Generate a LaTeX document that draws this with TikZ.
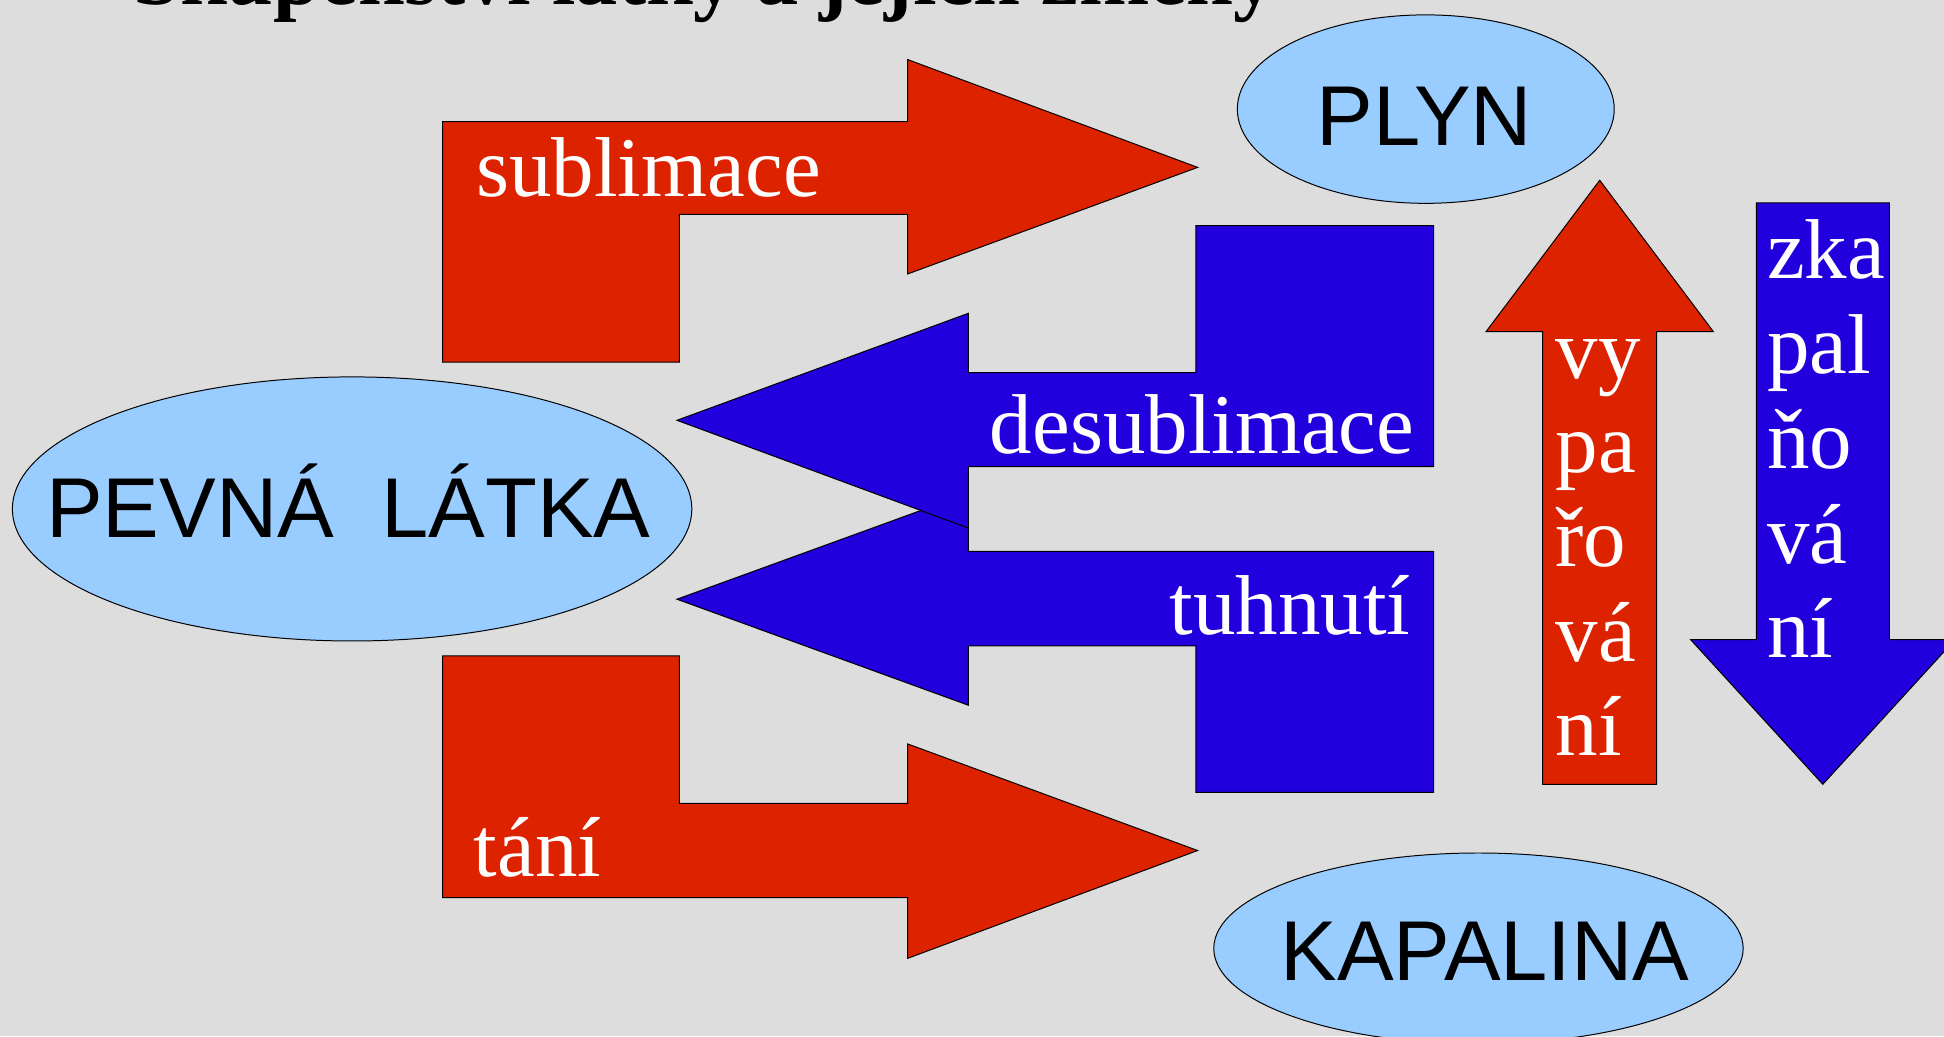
\documentclass[tikz,border=0pt]{standalone}
\usepackage{fontspec}
\setmainfont{Liberation Serif}
\setsansfont{Liberation Sans}
\usetikzlibrary{shapes.geometric}

\definecolor{slidebg}{HTML}{DDDDDD}
\definecolor{heatred}{HTML}{DD2200}
\definecolor{coolblue}{HTML}{2200DD}
\definecolor{statefill}{HTML}{99CCFF}

\begin{document}
\begin{tikzpicture}[x=0.5pt,y=-0.5pt,
  bigarrow/.style={draw=black, line width=0.4pt, line join=miter},
  warm/.style={bigarrow, fill=heatred},
  cold/.style={bigarrow, fill=coolblue},
  statebox/.style={ellipse, draw=black, line width=0.4pt, fill=statefill, inner sep=0pt},
  proclbl/.style={text=white, font=\fontsize{34.25pt}{38pt}\selectfont, inner sep=0pt, anchor=base west},
  statelbl/.style={text=black, font=\sffamily\fontsize{34.25pt}{40pt}\selectfont, inner sep=0pt, anchor=base},
]
% page and background
\useasboundingbox (0,0) rectangle (1568,836);
\clip (0,0) rectangle (1568,836);
\fill[slidebg] (0,0) rectangle (1568,836);

% title (runs off the top edge)
\node[anchor=base west, inner sep=0pt, font=\bfseries\fontsize{34pt}{40pt}\selectfont] (title) at (107,4) {Skupenství látky a jejich změny};

% states of matter
\node[statebox, minimum width=152pt, minimum height=76pt] (plyn) at (1150,88) {};
\node[statebox, minimum width=274pt, minimum height=106.5pt] (pevna) at (284,410.5) {};
\node[statebox, minimum width=213.5pt, minimum height=77pt] (kapalina) at (1192.5,765) {};
\node[statelbl] (plynlbl) at (1149,117) {PLYN};
\node[statelbl] (pevnalbl) at (281,433.7) {PEVNÁ\ \ LÁTKA};
\node[statelbl] (kapalinalbl) at (1197.7,791) {KAPALINA};

% solid -> gas
\path[warm] (357,292) -- (357,98) -- (732,98) -- (732,48) -- (966,135) -- (732,221)
  -- (732,173) -- (548,173) -- (548,292) -- cycle;
% solid -> liquid
\path[warm] (357,529) -- (548,529) -- (548,648) -- (732,648) -- (732,600) -- (966,686)
  -- (732,773) -- (732,724) -- (357,724) -- cycle;
% liquid -> solid
\path[cold] (1156.4,444.7) -- (1156.4,639.1) -- (964.6,639.1) -- (964.6,520.9) -- (781,520.9)
  -- (781,568.8) -- (546,483.3) -- (781,397.8) -- (781,444.7) -- cycle;
% gas -> solid
\path[cold] (1156.4,182) -- (1156.4,376.4) -- (781,376.4) -- (781,425.9) -- (546,339)
  -- (781,252.7) -- (781,300.5) -- (964.6,300.5) -- (964.6,182) -- cycle;
% liquid -> gas
\path[warm] (1290.3,145.4) -- (1382,267.5) -- (1336.2,267.5) -- (1336.2,632.6)
  -- (1244.3,632.6) -- (1244.3,267.5) -- (1198.6,267.5) -- cycle;
% gas -> liquid
\path[cold] (1416.6,163.7) -- (1523.9,163.7) -- (1523.9,515.9) -- (1576.9,515.9)
  -- (1470.25,632.6) -- (1363.6,515.9) -- (1416.6,515.9) -- cycle;

% process labels
\node[proclbl] (sublim) at (383.8,158.6) {sublimace};
\node[proclbl] (desublim) at (798,365.7) {desublimace};
\node[proclbl] (tuhnuti) at (943.2,511.7) {tuhnutí};
\node[proclbl] (tani) at (381.7,706.6) {tání};
\foreach \syl [count=\i from 0] in {vy,pa,řo,vá,ní}
  \node[proclbl] (vyp\i) at (1254.3,304.9+76.1*\i) {\syl};
\foreach \syl [count=\i from 0] in {zka,pal,ňo,vá,ní}
  \node[proclbl] (zkap\i) at (1425,224.7+76.5*\i) {\syl};
\end{tikzpicture}
\end{document}
